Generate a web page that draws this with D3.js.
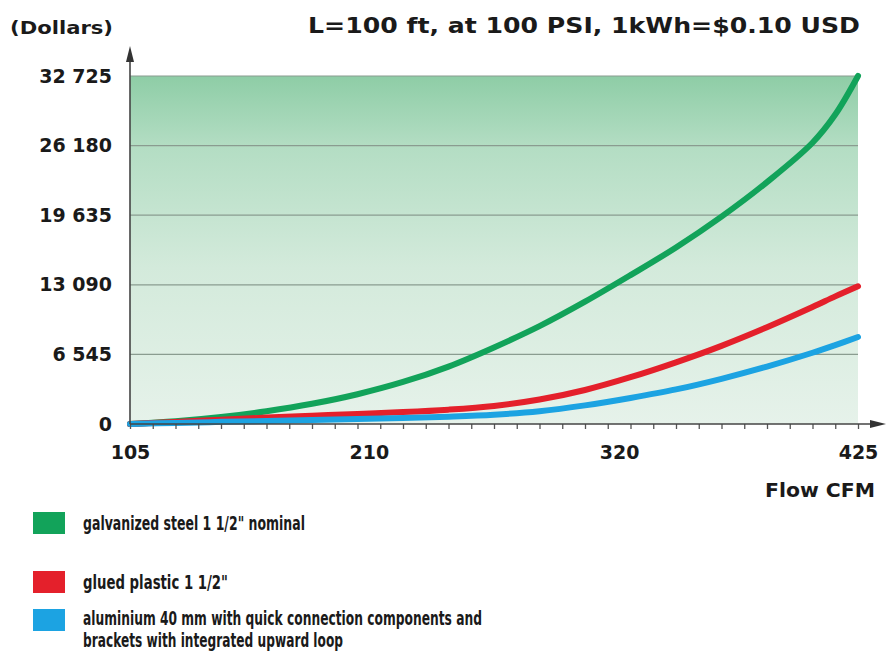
<!DOCTYPE html>
<html>
<head>
<meta charset="utf-8">
<script src="https://cdn.jsdelivr.net/npm/d3@7"></script>
<style>
  body { margin: 0; background: #fff; }
  text { font-family: "DejaVu Sans", Verdana, sans-serif; fill: #1a1a1a; }
</style>
</head>
<body>
<svg id="chart" width="888" height="652"></svg>
<script>
// flow values (CFM) the curves are read at
const flow = [105, 125, 145, 165, 185, 205, 225, 245, 265, 285, 305, 325, 345, 365, 385, 405, 415, 425];
// yearly cost in dollars
const steel = [0, 250, 650, 1200, 1900, 2800, 3950, 5400, 7200, 9200, 11500, 14000, 16600, 19500, 22750, 26450, 29100, 32725];
const plastic = [0, 200, 400, 600, 780, 950, 1120, 1350, 1700, 2300, 3200, 4400, 5800, 7350, 9100, 11000, 12000, 12950];
const alu = [0, 100, 200, 290, 380, 470, 570, 690, 870, 1200, 1750, 2450, 3250, 4250, 5400, 6700, 7420, 8180];

const yTicks = [0, 6545, 13090, 19635, 26180, 32725];
const xLabels = [105, 210, 320, 425];
const xMinor = d3.range(105, 426, 10);

const series = [
  { name: 'galvanized steel 1 1/2" nominal', values: steel, color: "#12a35a" },
  { name: 'glued plastic 1 1/2"', values: plastic, color: "#e4202b" },
  { name: "aluminium 40 mm with quick connection components and|brackets with integrated upward loop", values: alu, color: "#1ca3e2" }
];

const svg = d3.select("#chart");
const x = d3.scaleLinear().domain([105, 425]).range([130, 858]);
const y = d3.scaleLinear().domain([0, 32725]).range([424, 76]);
const fmt = d3.formatLocale({ decimal: ".", thousands: " ", grouping: [3], currency: ["$", ""] }).format(",");

// background gradient
const defs = svg.append("defs");
const grad = defs.append("linearGradient").attr("id", "bg").attr("x1", 0).attr("y1", 0).attr("x2", 0).attr("y2", 1);
grad.append("stop").attr("offset", "0%").attr("stop-color", "#8ecda6");
grad.append("stop").attr("offset", "20%").attr("stop-color", "#b3ddc3");
grad.append("stop").attr("offset", "55%").attr("stop-color", "#d3eadb");
grad.append("stop").attr("offset", "100%").attr("stop-color", "#e6f2ea");

svg.append("rect")
  .attr("x", x(105)).attr("y", y(32725))
  .attr("width", x(425) - x(105)).attr("height", y(0) - y(32725))
  .attr("fill", "url(#bg)");

// gridlines
svg.append("g").selectAll("line").data(yTicks.slice(1)).join("line")
  .attr("x1", x(105)).attr("x2", x(425))
  .attr("y1", d => y(d)).attr("y2", d => y(d))
  .attr("stroke", "#8a9c90").attr("stroke-width", 1.2);

// curves
const line = d3.line().x((d, i) => x(flow[i])).y(d => y(d)).curve(d3.curveCatmullRom.alpha(0.5));
svg.append("g").selectAll("path").data(series).join("path")
  .attr("d", d => line(d.values))
  .attr("fill", "none").attr("stroke", d => d.color)
  .attr("stroke-width", 6).attr("stroke-linecap", "round");

// x axis with minor ticks
const xAxis = svg.append("g").attr("transform", `translate(0,${y(0)})`)
  .call(d3.axisBottom(x).tickValues(xMinor).tickSize(5).tickSizeOuter(0).tickFormat(""));
xAxis.select(".domain").remove();
xAxis.selectAll(".tick line").attr("stroke", "#555").attr("stroke-width", 1.3);
svg.append("line").attr("x1", x(105)).attr("x2", 880).attr("y1", y(0)).attr("y2", y(0))
  .attr("stroke", "#444").attr("stroke-width", 1.6);
svg.append("path").attr("d", `M886,${y(0)} L870,${y(0) - 4} L870,${y(0) + 4} Z`).attr("fill", "#333");

const xLab = svg.append("g").attr("transform", `translate(0,${y(0)})`)
  .call(d3.axisBottom(x).tickValues(xLabels).tickSize(0).tickPadding(22).tickFormat(d3.format("d")));
xLab.select(".domain").remove();
xLab.selectAll("text").attr("font-size", 19).attr("font-weight", "bold")
  .attr("font-family", "DejaVu Sans, sans-serif").attr("fill", "#1a1a1a");

// y axis
svg.append("line").attr("x1", x(105)).attr("x2", x(105)).attr("y1", y(0)).attr("y2", 56)
  .attr("stroke", "#444").attr("stroke-width", 1.6);
svg.append("path").attr("d", `M${x(105)},46 L${x(105) - 4},62 L${x(105) + 4},62 Z`).attr("fill", "#333");

const yAx = svg.append("g").attr("transform", "translate(112,0)")
  .call(d3.axisLeft(y).tickValues(yTicks).tickSize(0).tickPadding(0).tickFormat(fmt));
yAx.select(".domain").remove();
yAx.selectAll("text").attr("font-size", 19).attr("font-weight", "bold")
  .attr("font-family", "DejaVu Sans, sans-serif").attr("fill", "#1a1a1a");

// titles
svg.append("text").attr("x", 10).attr("y", 34).attr("font-size", 18).attr("font-weight", "bold")
  .attr("textLength", 103).attr("lengthAdjust", "spacingAndGlyphs").text("(Dollars)");
svg.append("text").attr("x", 308).attr("y", 33).attr("font-size", 21).attr("font-weight", "bold")
  .attr("textLength", 552).attr("lengthAdjust", "spacingAndGlyphs")
  .text("L=100 ft, at 100 PSI, 1kWh=$0.10 USD");
svg.append("text").attr("x", 765).attr("y", 497)
  .attr("font-size", 19).attr("font-weight", "bold")
  .attr("textLength", 110).attr("lengthAdjust", "spacingAndGlyphs").text("Flow CFM");

// legend
const legendTop = [512, 571, 609];
const legendWidths = [[222], [145], [399, 260]];
const lg = svg.append("g").selectAll("g").data(series).join("g")
  .attr("transform", (d, i) => `translate(33,${legendTop[i]})`);
lg.append("rect").attr("width", 32).attr("height", 22).attr("fill", d => d.color);
lg.each(function(d, i) {
  d.name.split("|").forEach((t, j) => {
    d3.select(this).append("text")
      .attr("x", 50).attr("y", (i === 2 ? 16 : 18) + j * 22)
      .attr("font-size", 19).attr("font-weight", "bold")
      .attr("textLength", legendWidths[i][j]).attr("lengthAdjust", "spacingAndGlyphs")
      .text(t);
  });
});
</script>
</body>
</html>
